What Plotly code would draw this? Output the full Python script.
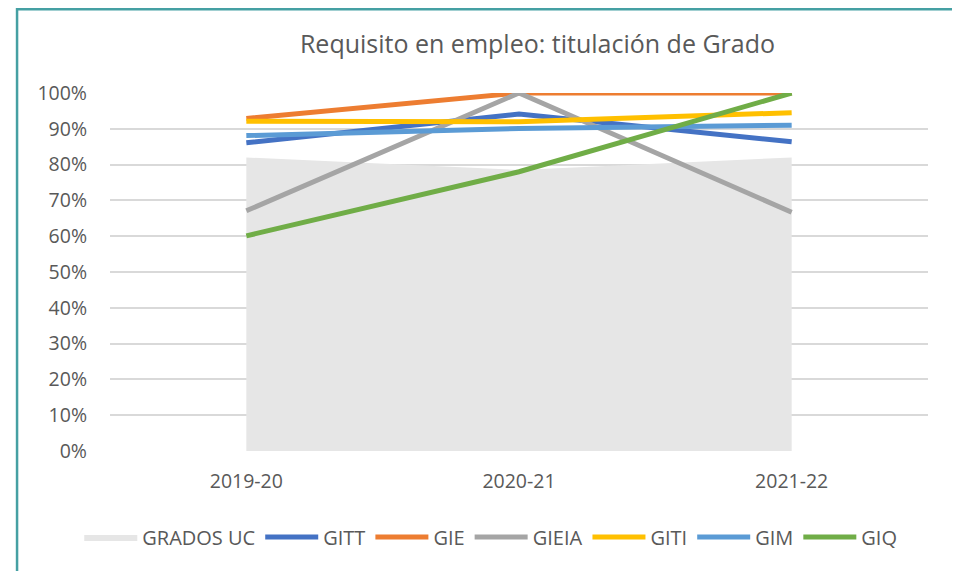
import plotly.graph_objects as go

categories = ["2019-20", "2020-21", "2021-22"]
grados_uc = [82.0, 78.5, 82.0]
gitt = [86.1, 94.1, 86.4]
gie = [92.9, 100.0, 100.0]
gieia = [67.1, 100.0, 66.7]
giti = [92.1, 92.0, 94.5]
gim = [88.1, 90.1, 91.0]
giq = [60.1, 78.0, 100.0]

series = [
    ("GITT", gitt, "#4472C4"),
    ("GIE", gie, "#ED7D31"),
    ("GIEIA", gieia, "#A5A5A5"),
    ("GITI", giti, "#FFC000"),
    ("GIM", gim, "#5B9BD5"),
    ("GIQ", giq, "#70AD47"),
]

OFF = 8  # page body margin
W, H = 960 - OFF, 571 - OFF
# plot area in page pixels
PL, PR, PT, PB = 110, 928.5, 93, 451
L = PL - OFF
R = W - (PR - OFF)
T = PT - OFF
B = H - (PB - OFF)
pw = PR - PL
ph = PB - PT

fig = go.Figure()
fig.add_trace(go.Scatter(
    x=categories, y=grados_uc, name="GRADOS UC", mode="lines",
    fill="tozeroy", fillcolor="#E6E6E6", line=dict(width=0, color="#E6E6E6"),
))
for name, vals, color in series:
    fig.add_trace(go.Scatter(
        x=categories, y=vals, name=name, mode="lines",
        line=dict(color=color, width=5),
    ))

def px_x(px):
    return (px - PL) / pw

def px_y(py):
    return (PB - py) / ph

fig.add_shape(type="rect", xref="paper", yref="paper",
              x0=px_x(17), x1=px_x(957), y0=px_y(600), y1=px_y(OFF + 1.2),
              line=dict(color="#45A0A3", width=2.5), fillcolor="rgba(0,0,0,0)")

fig.update_layout(
    width=W, height=H,
    margin=dict(l=L, r=R, t=T, b=B),
    paper_bgcolor="white", plot_bgcolor="white",
    font=dict(family="Open Sans", color="#595959", size=19),
    title=dict(text="Requisito en empleo: titulación de Grado",
               x=(537.5 - OFF) / W, xanchor="center", xref="container",
               y=1 - (44 - OFF) / H, yanchor="middle", yref="container",
               font=dict(size=25, color="#595959", family="Open Sans")),
    showlegend=True,
    legend=dict(orientation="h", x=px_x(491), xanchor="center",
                y=px_y(537), yanchor="middle",
                font=dict(size=20, color="#595959"),
                itemwidth=53, tracegroupgap=0),
    xaxis=dict(type="category", range=[-0.5, 2.5], showgrid=False,
               showline=False, zeroline=False, ticks="",
               tickfont=dict(size=19.5, color="#595959"), ticklabelstandoff=16),
    yaxis=dict(range=[0, 100], dtick=10, ticksuffix="%", showgrid=True,
               gridcolor="#D9D9D9", gridwidth=1.5, zeroline=False,
               showline=False, ticks="",
               tickfont=dict(size=19.5, color="#595959"), ticklabelstandoff=22),
)

fig.write_html("out.html")
